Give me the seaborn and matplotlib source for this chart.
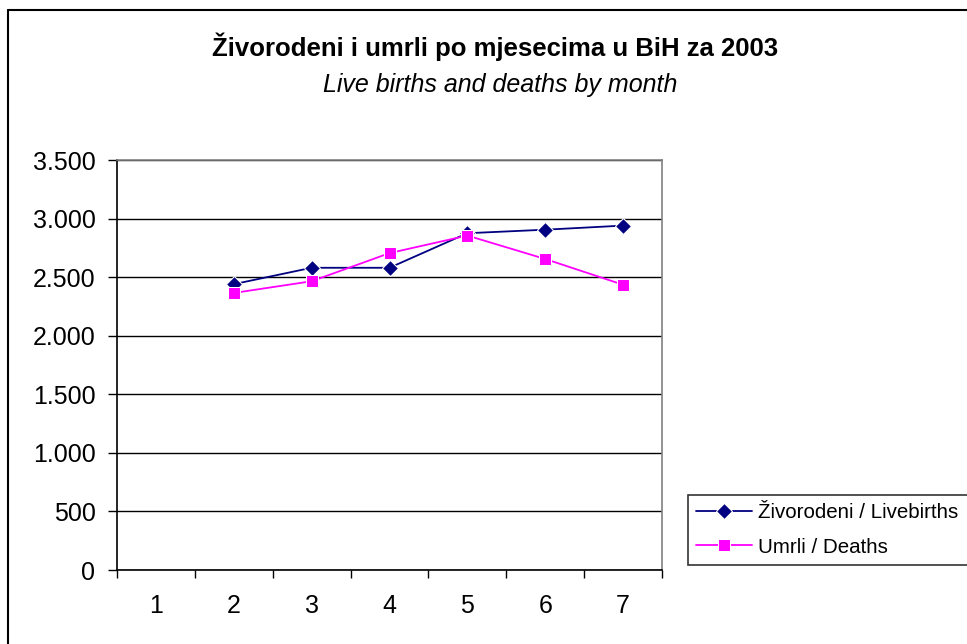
import numpy as np
import pandas as pd
import seaborn as sns
import matplotlib.pyplot as plt
from matplotlib.ticker import FuncFormatter, FixedLocator

# %% Podaci
mjeseci = [1, 2, 3, 4, 5, 6, 7]
zivorodeni = [np.nan, 2440, 2580, 2580, 2875, 2905, 2940]
umrli = [np.nan, 2365, 2465, 2705, 2855, 2655, 2435]
serije = ['Živorodeni / Livebirths', 'Umrli / Deaths']

df = pd.DataFrame({'mjesec': mjeseci, serije[0]: zivorodeni, serije[1]: umrli})
df = df.melt(id_vars='mjesec', var_name='serija', value_name='broj')

# %% Plot
sns.set_theme(style='white')
plt.rcParams['font.family'] = ['Liberation Sans', 'DejaVu Sans']
plt.rcParams['text.color'] = 'black'
plt.rcParams['xtick.color'] = 'black'
plt.rcParams['ytick.color'] = 'black'

fig = plt.figure(figsize=(9.67, 6.44), dpi=100)
ax = fig.add_axes([117 / 967, 74 / 644, 545 / 967, 410 / 644])

sns.lineplot(data=df, x='mjesec', y='broj', hue='serija', style='serija',
             palette=['#000080', '#FF00FF'], markers=['D', 's'], dashes=False,
             markersize=8, linewidth=1.3, ax=ax, legend=False)

ax.set_xlim(0.5, 7.5)
ax.set_ylim(0, 3500)
ax.set_yticks(np.arange(0, 3501, 500))
ax.yaxis.set_major_formatter(FuncFormatter(lambda v, p: f'{int(v):,}'.replace(',', '.')))
ax.xaxis.set_major_locator(FixedLocator(np.arange(0.5, 8, 1)))
ax.xaxis.set_minor_locator(FixedLocator(mjeseci))
ax.set_xticklabels([])
ax.set_xticklabels([str(m) for m in mjeseci], minor=True)
ax.tick_params(axis='x', which='major', direction='out', length=6, width=1, color='black', bottom=True)
ax.tick_params(axis='x', which='minor', length=0, pad=17, labelsize=18, labelcolor='black')
ax.tick_params(axis='y', direction='out', length=6.5, width=1, color='black', left=True,
               labelsize=18, pad=9, labelcolor='black')
ax.grid(axis='y', color='black', linewidth=1)
ax.set_axisbelow(True)
ax.set_xlabel('')
ax.set_ylabel('')
for s in ['left', 'bottom']:
    ax.spines[s].set_color('black')
    ax.spines[s].set_linewidth(1.2)
for s in ['top', 'right']:
    ax.spines[s].set_color('#808080')
    ax.spines[s].set_linewidth(1.2)

# naslov
fig.text(495 / 967, 1 - 47 / 644, 'Živorodeni i umrli po mjesecima u BiH za 2003',
         ha='center', va='center', fontsize=18.5, fontweight='bold', color='black')
fig.text(500 / 967, 1 - 85 / 644, 'Live births and deaths by month',
         ha='center', va='center', fontsize=18, style='italic', color='black')

# legenda - desni rub izlazi izvan slike kao u originalu
handles = ax.get_lines()[:2]
leg = fig.legend(handles, serije, loc='upper left',
                 bbox_to_anchor=(688 / 967, 1 - 495 / 644, 320 / 967, 0), mode='expand',
                 frameon=True, fancybox=False, fontsize=14.8, handlelength=2.7,
                 borderpad=0.4, labelspacing=0.75, handletextpad=0.3, borderaxespad=0)
leg.get_frame().set_edgecolor('black')
leg.get_frame().set_linewidth(1.2)

# okvir grafikona
fig.add_artist(plt.Line2D([8 / 967, 8 / 967], [0, 1 - 10 / 644], color='black', linewidth=1.5))
fig.add_artist(plt.Line2D([8 / 967, 1], [1 - 10 / 644, 1 - 10 / 644], color='black', linewidth=1.5))

plt.savefig('out.png', dpi=100)
